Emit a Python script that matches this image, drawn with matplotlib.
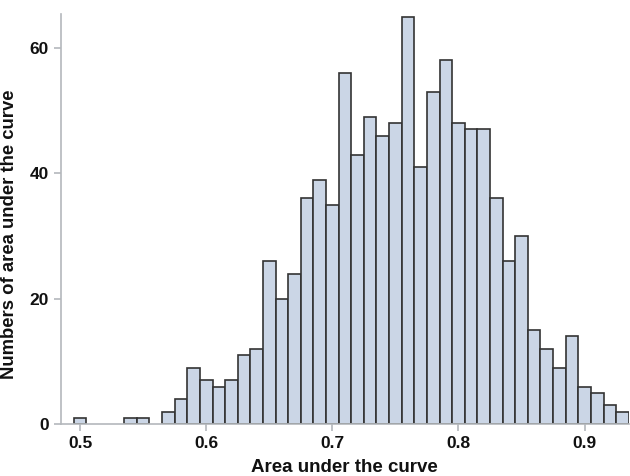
# Histogram of area under the curve values
import matplotlib.pyplot as plt

plt.rcParams['font.family'] = ['Liberation Sans', 'DejaVu Sans']

#####################################################################
# Bin centres (width 0.01) and counts
bin_centers = [0.50, 0.54, 0.55, 0.57, 0.58, 0.59, 0.60, 0.61, 0.62, 0.63,
               0.64, 0.65, 0.66, 0.67, 0.68, 0.69, 0.70, 0.71, 0.72, 0.73,
               0.74, 0.75, 0.76, 0.77, 0.78, 0.79, 0.80, 0.81, 0.82, 0.83,
               0.84, 0.85, 0.86, 0.87, 0.88, 0.89, 0.90, 0.91, 0.92, 0.93]
counts = [1, 1, 1, 2, 4, 9, 7, 6, 7, 11,
          12, 26, 20, 24, 36, 39, 35, 56, 43, 49,
          46, 48, 65, 41, 53, 58, 48, 47, 47, 36,
          26, 30, 15, 12, 9, 14, 6, 5, 3, 2]
x_ticks = [0.5, 0.6, 0.7, 0.8, 0.9]
y_ticks = [0, 20, 40, 60]

#####################################################################
fig = plt.figure(figsize=(6.3, 4.76), dpi=100)
ax = fig.add_axes([0.0963, 0.1086, 0.9017, 0.862])

ax.bar(bin_centers, counts, width=0.01, color='#cbd6e6',
       edgecolor='#333333', linewidth=1.2)

ax.set_xlim(0.4846, 0.935)
ax.set_ylim(0, 65.4)
ax.set_xticks(x_ticks)
ax.set_xticklabels(['0.5', '0.6', '0.7', '0.8', '0.9'])
ax.set_yticks(y_ticks)

for side in ['top', 'right']:
    ax.spines[side].set_visible(False)
for side in ['left', 'bottom']:
    ax.spines[side].set_color('#b4b8bc')
    ax.spines[side].set_linewidth(1.2)

ax.tick_params(axis='both', colors='#b4b8bc', length=5, width=1.2,
               labelcolor='#111111', labelsize=12.5)
for lab in ax.get_xticklabels() + ax.get_yticklabels():
    lab.set_fontweight('bold')

ax.set_xlabel('Area under the curve', fontsize=13.5, fontweight='bold',
              color='#111111', labelpad=6)
ax.set_ylabel('Numbers of area under the curve', fontsize=13.3,
              fontweight='bold', color='#111111')
ax.yaxis.set_label_coords(-0.075, 0.464)

fig.savefig('out.png', dpi=100)
